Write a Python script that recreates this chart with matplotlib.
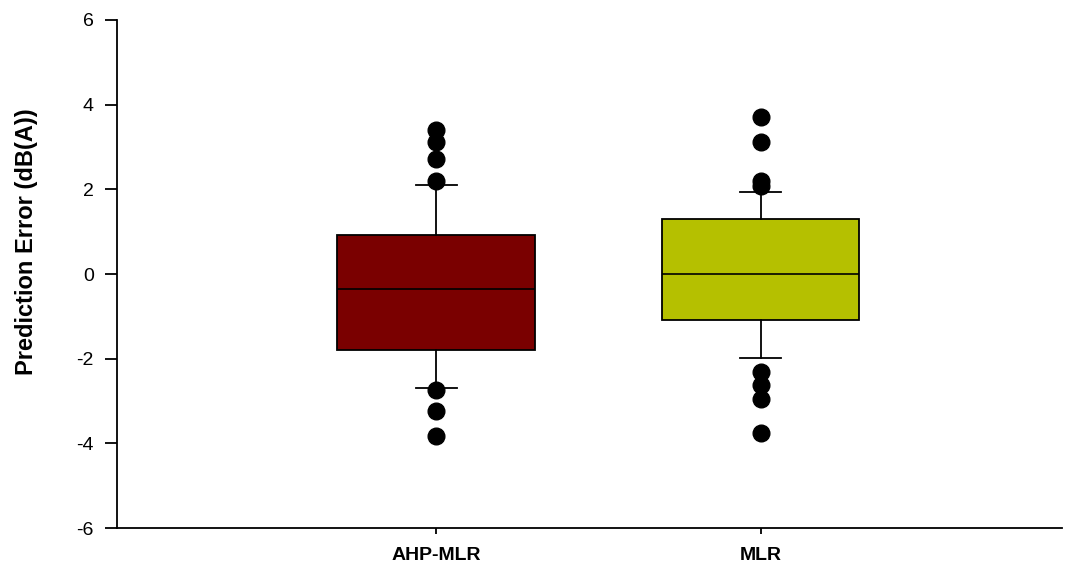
import matplotlib
matplotlib.use("Agg")
import matplotlib.pyplot as plt

# box statistics
groups = ["AHP-MLR", "MLR"]
whislo = [-2.69, -1.98]
q1 = [-1.80, -1.09]
med = [-0.35, 0.0]
q3 = [0.92, 1.30]
whishi = [2.10, 1.94]
fliers = [
    [3.40, 3.12, 2.72, 2.20, -2.74, -3.24, -3.83],
    [3.71, 3.12, 2.20, 2.08, -2.32, -2.62, -2.95, -3.76],
]
colors = ["#7A0000", "#B5C000"]

stats = []
for i in range(len(groups)):
    stats.append(dict(label=groups[i], whislo=whislo[i], q1=q1[i], med=med[i],
                      q3=q3[i], whishi=whishi[i], fliers=fliers[i]))

fig = plt.figure(figsize=(10.75, 5.68), dpi=100)
ax = fig.add_axes([0.1088, 0.0704, 0.8792, 0.8944])

bp = ax.bxp(stats, positions=[1, 2], widths=0.61, patch_artist=True,
            capwidths=0.125,
            boxprops=dict(linewidth=1.3, edgecolor="black"),
            medianprops=dict(color="black", linewidth=1.2),
            whiskerprops=dict(color="black", linewidth=1.3),
            capprops=dict(color="black", linewidth=1.3),
            flierprops=dict(marker="o", markerfacecolor="black",
                            markeredgecolor="black", markersize=12))
for patch, c in zip(bp["boxes"], colors):
    patch.set_facecolor(c)

ax.set_xlim(0.015, 2.93)
ax.set_ylim(-6, 6)
ax.set_yticks([-6, -4, -2, 0, 2, 4, 6])
ax.set_yticklabels(["-6", "-4", "-2", "0", "2", "4", "6"],
                   family="Liberation Sans", fontsize=14)
ax.set_xticks([1, 2])
ax.set_xticklabels(groups, family="Liberation Sans", fontsize=14, fontweight="bold")
ax.tick_params(axis="y", direction="out", length=8.6, width=1.3, pad=8)
ax.tick_params(axis="x", direction="out", length=4.5, width=1.3, pad=9)

ax.spines["top"].set_visible(False)
ax.spines["right"].set_visible(False)
ax.spines["left"].set_linewidth(1.3)
ax.spines["bottom"].set_linewidth(1.3)

ax.set_ylabel("Prediction Error (dB(A))", family="Liberation Sans",
              fontsize=17, fontweight="bold")
ax.yaxis.set_label_coords(-0.0836, 0.564)

fig.savefig("out.png", dpi=100)
